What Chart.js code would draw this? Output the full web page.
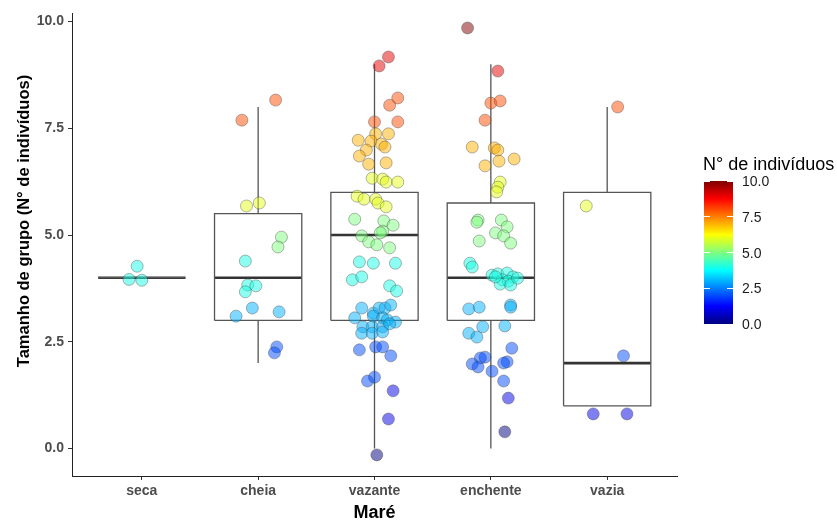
<!DOCTYPE html>
<html><head><meta charset="utf-8">
<script src="https://cdn.jsdelivr.net/npm/chart.js@4.4.1/dist/chart.umd.min.js"></script>
<style>
html,body{margin:0;padding:0;background:#fff;}
#wrap{position:relative;width:837px;height:524px;overflow:hidden;}
canvas{position:absolute;left:0;top:0;}
.lg{position:absolute;font-family:"Liberation Sans",Arial,sans-serif;color:#1a1a1a;white-space:nowrap;line-height:1;}
#ytitle{position:absolute;left:-177px;top:211px;width:400px;height:20px;line-height:20px;text-align:center;
  transform:rotate(-90deg);transform-origin:50% 50%;font-family:"Liberation Sans",Arial,sans-serif;
  font-weight:bold;font-size:16.5px;color:#000;white-space:nowrap;}
</style></head><body>
<div id="wrap"><canvas id="c" width="837" height="524"></canvas><div id="ytitle"></div><div id="legend"></div></div>
<script>
// ---- data ----
const categories = ['seca', 'cheia', 'vazante', 'enchente', 'vazia'];
const yTicks = [0, 2.5, 5, 7.5, 10];
const legendTicks = [0, 2.5, 5, 7.5, 10];
const xTitle = 'Maré';
const yTitle = 'Tamanho de grupo (N° de indivíduos)';
const legendTitle = 'N° de indivíduos';

// box statistics
const whiskerLow = [4, 2, 0, 0, 1];
const q1 = [4, 3, 3, 3, 1];
const median = [4, 4, 5, 4, 2];
const q3 = [4, 5.5, 6, 5.75, 6];
const whiskerHigh = [4, 8, 9, 9, 8];

// jittered points: y = plotted group size, x = horizontal jitter offset
const secaY = [4.27, 3.96, 3.94];
const secaX = [-0.04, -0.11, 0.00];

const cheiaY = [8.16, 7.69, 5.68, 5.75, 4.95, 4.72, 4.39, 3.83, 3.81, 3.67, 3.29, 3.10, 3.20, 2.38, 2.24];
const cheiaX = [0.15, -0.14, -0.10, 0.01, 0.20, 0.17, -0.11, -0.09, -0.02, -0.11, -0.05, -0.19, 0.18, 0.16, 0.14];

const vazanteY = [9.17, 8.96, 8.21, 8.04, 7.65, 7.65, 7.37, 7.37, 7.22, 7.20, 7.13, 7.06, 6.99, 6.85, 6.66, 6.69,
  6.33, 6.31, 6.24, 6.24, 5.91, 5.84, 5.84, 5.75, 5.66, 5.37, 5.33, 5.23, 5.09, 5.05, 4.98, 4.84, 4.77, 4.70,
  4.37, 4.34, 4.34, 3.95, 4.02, 3.81, 3.69, 3.29, 3.17, 3.29, 3.29, 3.36, 3.06, 3.10, 3.06, 3.01, 2.96, 2.85,
  2.85, 2.85, 2.70, 2.70, 2.73, 2.92, 2.31, 2.38, 2.38, 2.17, 1.58, 1.67, 1.35, 0.69, -0.15];
const vazanteX = [0.12, 0.04, 0.20, 0.13, 0.00, 0.20, 0.01, 0.12, -0.14, -0.03, 0.06, 0.09, -0.07, -0.13, -0.05, 0.10,
  -0.02, 0.07, 0.10, 0.20, -0.15, -0.09, 0.01, 0.03, 0.10, -0.17, 0.08, 0.16, 0.07, 0.05, -0.11, -0.05, 0.02, 0.13,
  -0.13, -0.01, 0.18, -0.19, -0.11, 0.13, 0.19, -0.11, -0.01, 0.04, 0.09, 0.14, -0.17, -0.01, 0.07, 0.11, 0.18, -0.10,
  -0.02, 0.07, -0.11, -0.02, 0.07, 0.13, -0.13, 0.01, 0.07, 0.14, -0.06, 0.00, 0.16, 0.12, 0.02];

const enchenteY = [9.85, 8.84, 8.09, 8.14, 7.69, 7.06, 7.04, 6.99, 6.78, 6.73, 6.62, 6.24, 6.12, 6.01, 5.35, 5.30,
  5.35, 5.19, 5.05, 4.98, 4.81, 4.86, 4.34, 4.25, 4.06, 4.09, 4.11, 4.02, 3.95, 3.92, 3.85, 3.83, 4.02, 3.99,
  3.27, 3.31, 3.36, 3.31, 2.85, 2.87, 2.70, 2.61, 2.35, 2.14, 2.12, 1.98, 1.91, 1.81, 2.03, 2.00, 1.58, 1.18, 0.39];
const enchenteX = [-0.20, 0.06, 0.00, 0.08, -0.05, -0.16, 0.03, 0.06, 0.20, 0.07, -0.05, 0.08, 0.06, 0.05, -0.11, -0.12,
  0.09, 0.14, 0.04, 0.11, 0.17, -0.10, -0.18, -0.16, 0.01, 0.06, 0.14, 0.19, 0.10, 0.15, 0.08, 0.17, 0.04, 0.23,
  -0.19, -0.10, 0.17, 0.17, -0.07, 0.12, -0.19, -0.12, 0.18, -0.05, -0.09, -0.16, -0.11, 0.01, 0.14, 0.11, 0.11, 0.15, 0.12];

const vaziaY = [8.00, 5.68, 2.17, 0.81, 0.81];
const vaziaX = [0.09, -0.18, 0.14, -0.12, 0.17];

const colorStops = ['#00007F', '#0000FF', '#007FFF', '#00FFFF', '#7FFF7F', '#FFFF00', '#FF7F00', '#FF0000', '#7F0000'];
const colorMin = 0, colorMax = 10;

// ---- helpers ----
function hexToRgb(h) { return [1, 3, 5].map(i => parseInt(h.substr(i, 2), 16)); }
function jet(v, alpha) {
  let t = (v - colorMin) / (colorMax - colorMin);
  t = Math.max(0, Math.min(1, t));
  const pos = t * (colorStops.length - 1);
  const i = Math.min(Math.floor(pos), colorStops.length - 2);
  const f = pos - i;
  const a = hexToRgb(colorStops[i]), b = hexToRgb(colorStops[i + 1]);
  const c = a.map((x, k) => Math.round(x + (b[k] - x) * f));
  return `rgba(${c[0]},${c[1]},${c[2]},${alpha})`;
}

const groupsY = [secaY, cheiaY, vazanteY, enchenteY, vaziaY];
const groupsX = [secaX, cheiaX, vazanteX, enchenteX, vaziaX];
const FONT = '"Liberation Sans", Arial, sans-serif';
const halfW = 0.375;
const lineStyle = { type: 'scatter', showLine: true, pointRadius: 0, fill: false, tension: 0, order: 1,
  borderJoinStyle: 'miter', borderCapStyle: 'butt' };

const datasets = [];
groupsY.forEach((ys, i) => {
  const xs = groupsX[i];
  datasets.push({
    type: 'scatter', order: 0,
    data: ys.map((v, k) => ({ x: i + 1 + xs[k], y: v })),
    pointRadius: 6, pointHoverRadius: 6,
    pointBackgroundColor: ys.map(v => jet(Math.round(v), 0.5)),
    pointBorderColor: 'rgba(70,70,70,0.4)', pointBorderWidth: 1
  });
});
categories.forEach((c, i) => {
  const cx = i + 1;
  datasets.push(Object.assign({}, lineStyle, { borderColor: '#555', borderWidth: 1.3,
    data: [{ x: cx, y: q3[i] }, { x: cx, y: whiskerHigh[i] }] }));
  datasets.push(Object.assign({}, lineStyle, { borderColor: '#555', borderWidth: 1.3,
    data: [{ x: cx, y: q1[i] }, { x: cx, y: whiskerLow[i] }] }));
  datasets.push(Object.assign({}, lineStyle, { borderColor: '#555', borderWidth: 1.3,
    data: [{ x: cx - halfW, y: q1[i] }, { x: cx + halfW, y: q1[i] }, { x: cx + halfW, y: q3[i] },
           { x: cx - halfW, y: q3[i] }, { x: cx - halfW, y: q1[i] }] }));
  datasets.push(Object.assign({}, lineStyle, { borderColor: '#333', borderWidth: 2.6,
    data: [{ x: cx - halfW, y: median[i] }, { x: cx + halfW, y: median[i] }] }));
});

new Chart(document.getElementById('c'), {
  type: 'scatter',
  data: { datasets },
  options: {
    responsive: false, animation: false, events: [],
    layout: { padding: { top: 13, right: 160, left: 0, bottom: 0 } },
    plugins: { legend: { display: false }, tooltip: { enabled: false } },
    scales: {
      x: {
        type: 'linear', min: 0.4, max: 5.6,
        afterBuildTicks: s => { s.ticks = categories.map((c, i) => ({ value: i + 1 })); },
        afterFit: s => { s.height = 48; },
        ticks: { callback: v => categories[Math.round(v) - 1], font: { family: FONT, size: 14, weight: 'bold' },
          color: '#4d4d4d', padding: 3, maxRotation: 0, autoSkip: false },
        grid: { display: true, drawOnChartArea: false, drawTicks: true, tickLength: 4, color: '#333', lineWidth: 1 },
        border: { display: true, color: '#222', width: 1 },
        title: { display: true, text: xTitle, font: { family: FONT, size: 18, weight: 'bold' }, color: '#000',
          padding: { top: 0, bottom: 0 } }
      },
      y: {
        type: 'linear', min: -0.644, max: 10.2,
        afterBuildTicks: s => { s.ticks = yTicks.map(v => ({ value: v })); },
        afterFit: s => { s.width = 72; },
        ticks: { callback: v => v.toFixed(1), font: { family: FONT, size: 14, weight: 'bold' },
          color: '#4d4d4d', padding: 4 },
        grid: { display: true, drawOnChartArea: false, drawTicks: true, tickLength: 4, color: '#333', lineWidth: 1 },
        border: { display: true, color: '#222', width: 1 },
        title: { display: false }
      }
    }
  }
});

document.getElementById('ytitle').textContent = yTitle;

// ---- colour bar legend ----
(function () {
  const L = document.getElementById('legend');
  const barLeft = 704, barTop = 181, barW = 29, barH = 143;
  const stops = colorStops.map((c, i) => `${c} ${(i / (colorStops.length - 1) * 100).toFixed(2)}%`).join(',');
  let html = `<div class="lg" style="left:703px;top:155px;font-size:18px;color:#000">${legendTitle}</div>`;
  html += `<div style="position:absolute;left:${barLeft}px;top:${barTop}px;width:${barW}px;height:${barH}px;background:linear-gradient(to top,${stops})"></div>`;
  legendTicks.forEach(v => {
    const y = barTop + barH - (v - colorMin) / (colorMax - colorMin) * barH;
    html += `<div style="position:absolute;left:${barLeft}px;top:${y - 0.5}px;width:6px;height:1px;background:#fff"></div>`;
    html += `<div style="position:absolute;left:${barLeft + barW - 6}px;top:${y - 0.5}px;width:6px;height:1px;background:#fff"></div>`;
    html += `<div class="lg" style="left:742px;top:${y - 7}px;font-size:14px">${v.toFixed(1)}</div>`;
  });
  L.innerHTML = html;
})();
</script>
</body></html>
